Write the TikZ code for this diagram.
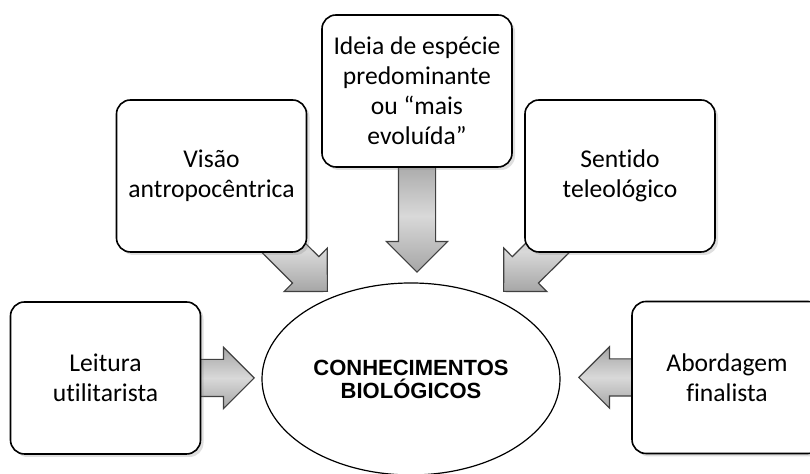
\documentclass[tikz,border=0pt]{standalone}
\usepackage{fontspec}
\setmainfont{Carlito}[Ligatures=NoCommon]
\newfontfamily\biofont{Liberation Sans}
\usetikzlibrary{shapes.geometric,shapes.arrows,shadows,backgrounds}
\tikzset{
  caixa/.style={draw=black, line width=0.8pt, rounded corners=7pt, fill=white,
    minimum width=95pt, minimum height=76pt, align=center,
    font=\fontsize{12.8}{15}\selectfont,
    drop shadow={shadow xshift=1.5pt, shadow yshift=-1.5pt, opacity=0.25}},
  seta/.style={single arrow, draw=black!75, line width=0.6pt,
    top color=gray!70, bottom color=gray!70, middle color=gray!30,
    text height=18pt, text depth=0pt, text width=0pt,
    single arrow head extend=6pt, single arrow tip angle=90,
    inner sep=0pt, anchor=tip, sloped, allow upside down},
}
\begin{document}
\begin{tikzpicture}[x=0.5pt, y=0.5pt]
\useasboundingbox (0,0) rectangle (810,474);

\node[ellipse, draw=black, fill=white, line width=0.6pt, minimum width=149pt, minimum height=96pt, align=center,
  font=\biofont\bfseries\fontsize{11}{11.5}\selectfont](bio) at (411,95) {CONHECIMENTOS\\BIOLÓGICOS};

\node[caixa](lei) at (105.5,96) {Leitura\\utilitarista};
\node[caixa](vis) at (211.5,298) {Visão\\antropocêntrica};
\node[caixa](ide) at (417,383) {Ideia de espécie\\predominante\\ou “mais\\evoluída”};
\node[caixa](sen) at (620,298) {Sentido\\teleológico};
\node[caixa](abo) at (727,96.5) {Abordagem\\finalista};

\coordinate (tl) at (255,96);
\coordinate (tv) at (328,182);
\coordinate (tt) at (417,201);
\coordinate (ts) at (503,182);
\coordinate (tr) at (578,96.5);

\begin{scope}[on background layer]
\path (lei) -- node[pos=1, seta, minimum height=32pt] {} (tl);
\path (vis) -- node[pos=1, seta, minimum height=48pt] {} (tv);
\path (ide) -- node[pos=1, seta, minimum height=56pt] {} (tt);
\path (sen) -- node[pos=1, seta, minimum height=48pt] {} (ts);
\path (abo) -- node[pos=1, seta, minimum height=32pt] {} (tr);
\end{scope}
\end{tikzpicture}
\end{document}
